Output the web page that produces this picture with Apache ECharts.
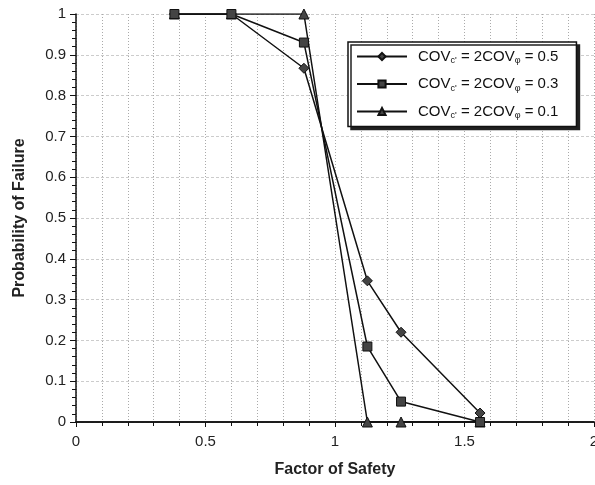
<!DOCTYPE html>
<html><head><meta charset="utf-8">
<script src="https://cdn.jsdelivr.net/npm/echarts@6/dist/echarts.min.js"></script>
<style>html,body{margin:0;padding:0;background:#fff}#c{width:595px;height:485px}</style>
</head><body><div id="c"></div>
<script>
var xValues = [0.38, 0.60, 0.88, 1.125, 1.255, 1.56];
var cov05 = [1, 1, 0.867, 0.346, 0.22, 0.022];
var cov03 = [1, 1, 0.93, 0.185, 0.05, 0];
var cov01 = [1, 1, 1, 0, 0, 0];
var seriesNames = ["COV{sub|c'} = 2COV{sub|φ} = 0.5", "COV{sub|c'} = 2COV{sub|φ} = 0.3", "COV{sub|c'} = 2COV{sub|φ} = 0.1"];
var xTitle = 'Factor of Safety';
var yTitle = 'Probability of Failure';

function pairs(ys){ return xValues.map(function(x,i){ return [x, ys[i]]; }); }
var font = 'Liberation Sans, Arial, sans-serif';
var gridLine = {color:'#aaa', type:[1,2], width:1};
var chart = echarts.init(document.getElementById('c'));
function mk(name, data, symbol, size, z){
  return {name:name, type:'line', data:pairs(data), symbol:symbol, symbolSize:size,
    lineStyle:{color:'#111', width:1.5}, itemStyle:{color:'#444', borderColor:'#111', borderWidth:1},
    z:z, animation:false};
}
chart.setOption({
  animation:false,
  grid:{left:76, right:1, top:14, bottom:63, outerBoundsMode:'none', containLabel:false},
  legend:{orient:'vertical', left:348, top:42, padding:[7,18,6,8], itemGap:11,
    itemWidth:50, itemHeight:9, backgroundColor:'#fff', borderColor:'#111', borderWidth:1.5,
    shadowColor:'#222', shadowBlur:0, shadowOffsetX:3, shadowOffsetY:3,
    textStyle:{fontFamily:font, fontSize:15, color:'#111', padding:[0,0,0,6],
      rich:{sub:{fontSize:9, fontFamily:font, color:'#111', padding:[9,0,0,0]}}},
    data:seriesNames},
  xAxis:[{type:'value', min:0, max:2, interval:0.5, minorTick:{show:true, splitNumber:5, length:4, lineStyle:{color:'#111'}},
    axisLine:{onZero:false, lineStyle:{color:'#111', width:1.5}}, axisTick:{length:5, lineStyle:{color:'#111'}},
    axisLabel:{fontFamily:font, fontSize:15, color:'#222', margin:12, formatter:function(v){return String(v);}},
    splitLine:{show:true, lineStyle:gridLine}, minorSplitLine:{show:true, lineStyle:gridLine},
    name:xTitle, nameLocation:'middle', nameGap:40, nameTextStyle:{fontFamily:font, fontSize:16, fontWeight:'bold', color:'#222'}},
   {type:'value', position:'top', min:0, max:2, axisLine:{show:true, lineStyle:{color:'#111', width:1.5}}, axisTick:{show:false}, axisLabel:{show:false}, splitLine:{show:false}}],
  yAxis:{type:'value', min:0, max:1, interval:0.1, minorTick:{show:true, splitNumber:5, length:4, lineStyle:{color:'#111'}},
    axisLine:{show:true, lineStyle:{color:'#111', width:1.5}}, axisTick:{show:true, length:6, lineStyle:{color:'#111'}},
    axisLabel:{fontFamily:font, fontSize:15, color:'#222', margin:10, formatter:function(v){return String(Math.round(v*10)/10);}},
    splitLine:{show:true, lineStyle:{color:'#ccc', type:[3,2], width:1}},
    name:yTitle, nameLocation:'middle', nameGap:48, nameTextStyle:{fontFamily:font, fontSize:16, fontWeight:'bold', color:'#222'}},
  series:[mk(seriesNames[0], cov05, 'diamond', 10, 3), mk(seriesNames[2], cov01, 'triangle', 10, 4), mk(seriesNames[1], cov03, 'rect', 9, 5)]
});
</script></body></html>
